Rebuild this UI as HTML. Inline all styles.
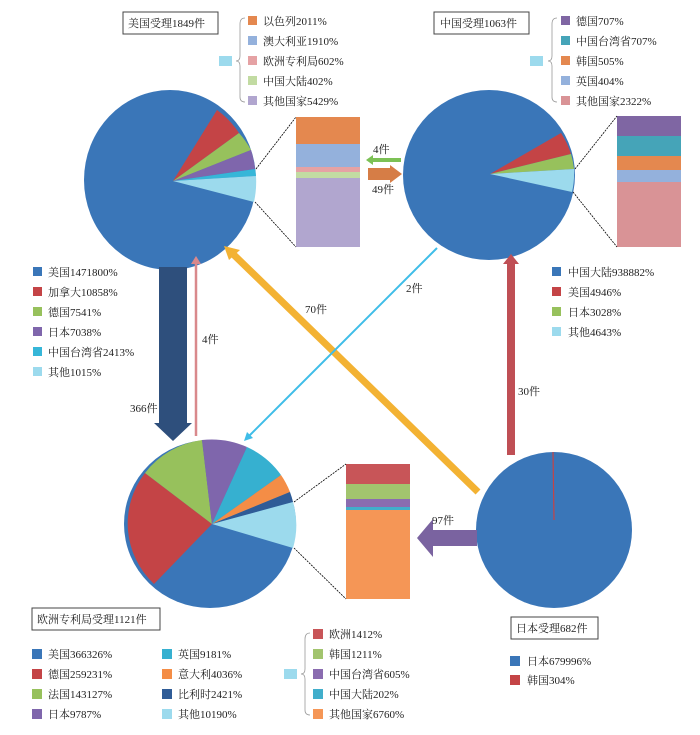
<!DOCTYPE html>
<html><head><meta charset="utf-8"><style>
body{margin:0;background:#fff}
svg text{font-family:"Liberation Serif","Noto Serif CJK SC","Noto Sans CJK SC",serif;font-size:11px;fill:#222}
</style></head><body>
<svg width="700" height="730" viewBox="0 0 700 730" xmlns="http://www.w3.org/2000/svg">
<!-- US pie -->
<ellipse cx="170" cy="180" rx="86" ry="90" fill="#3a76b8"/>
<path d="M173 181 L217 110 A86 90 0 0 1 239 133 Z" fill="#c44446"/>
<path d="M173 181 L239 133 A86 90 0 0 1 251 150 Z" fill="#97c15c"/>
<path d="M173 181 L251 150 A86 90 0 0 1 255 169 Z" fill="#7f66ac"/>
<path d="M173 181 L255 169 A86 90 0 0 1 256 176 Z" fill="#36b6d8"/>
<path d="M173 181 L256 176 A86 90 0 0 1 254 202 Z" fill="#9cdaed"/>
<rect x="296" y="117" width="64" height="27" fill="#e4884f"/>
<rect x="296" y="144" width="64" height="23" fill="#94b1dc"/>
<rect x="296" y="167" width="64" height="5" fill="#e5a2a4"/>
<rect x="296" y="172" width="64" height="6" fill="#c2dba2"/>
<rect x="296" y="178" width="64" height="69" fill="#b1a6cf"/>
<line x1="256" y1="169" x2="296" y2="117" stroke="#000" stroke-dasharray="2,1" stroke-width="0.8"/>
<line x1="255" y1="202" x2="296" y2="247" stroke="#000" stroke-dasharray="2,1" stroke-width="0.8"/>
<!-- China pie -->
<ellipse cx="489" cy="175" rx="86" ry="85" fill="#3a76b8"/>
<path d="M490 174 L561 133 A86 85 0 0 1 571 154 Z" fill="#c44446"/>
<path d="M490 174 L571 154 A86 85 0 0 1 574 169 Z" fill="#97c15c"/>
<path d="M490 174 L574 169 A86 85 0 0 1 572 192 Z" fill="#9cdaed"/>
<rect x="617" y="116" width="64" height="20" fill="#7f66a3"/>
<rect x="617" y="136" width="64" height="20" fill="#45a4b8"/>
<rect x="617" y="156" width="64" height="14" fill="#e4884f"/>
<rect x="617" y="170" width="64" height="12" fill="#94b1dc"/>
<rect x="617" y="182" width="64" height="65" fill="#d99396"/>
<line x1="575" y1="169" x2="617" y2="116" stroke="#000" stroke-dasharray="2,1" stroke-width="0.8"/>
<line x1="573" y1="192" x2="617" y2="247" stroke="#000" stroke-dasharray="2,1" stroke-width="0.8"/>
<!-- small arrows between -->
<path d="M401 158 L373 158 L373 155 L366 160 L373 165 L373 162 L401 162 Z" fill="#7cc155"/>
<path d="M368 168 L390 168 L390 165 L402 174 L390 183 L390 180 L368 180 Z" fill="#d67d46"/>
<text x="373" y="153">4件</text><text x="372" y="193">49件</text>
<!-- EPO pie -->
<ellipse cx="210" cy="524" rx="86" ry="84" fill="#3a76b8"/>
<path d="M212 524 L154 584 A86 84 0 0 1 145 473 Z" fill="#c44446"/>
<path d="M212 524 L145 473 A86 84 0 0 1 202 440 Z" fill="#97c15c"/>
<path d="M212 524 L202 440 A86 84 0 0 1 247 447 Z" fill="#7f66ac"/>
<path d="M212 524 L247 447 A86 84 0 0 1 281 475 Z" fill="#36b0d0"/>
<path d="M212 524 L281 475 A86 84 0 0 1 290 492 Z" fill="#f48d46"/>
<path d="M212 524 L290 492 A86 84 0 0 1 293 502 Z" fill="#2f5c97"/>
<path d="M212 524 L293 502 A86 84 0 0 1 293 548 Z" fill="#9cdaed"/>
<rect x="346" y="464" width="64" height="20" fill="#c85558"/>
<rect x="346" y="484" width="64" height="15" fill="#a2c46e"/>
<rect x="346" y="499" width="64" height="8" fill="#8a6cb0"/>
<rect x="346" y="507" width="64" height="3" fill="#41aecb"/>
<rect x="346" y="510" width="64" height="89" fill="#f59656"/>
<line x1="294" y1="502" x2="346" y2="464" stroke="#000" stroke-dasharray="2,1" stroke-width="0.8"/>
<line x1="294" y1="548" x2="346" y2="599" stroke="#000" stroke-dasharray="2,1" stroke-width="0.8"/>
<!-- Japan pie -->
<ellipse cx="554" cy="530" rx="78" ry="78" fill="#3a76b8"/>
<line x1="553" y1="452" x2="554" y2="520" stroke="#c44446" stroke-width="1.2"/>
<!-- purple arrow -->
<path d="M477 530 L433 530 L433 519 L417 538 L433 557 L433 546 L477 546 Z" fill="#7a63a0"/>
<text x="432" y="524">97件</text>
<!-- big arrows -->
<path d="M159 267 L187 267 L187 423 L192 423 L173 441 L154 423 L159 423 Z" fill="#2e4f7c"/>
<line x1="196" y1="262" x2="196" y2="436" stroke="#d9898c" stroke-width="2.5"/>
<path d="M191 264 L196 256 L201 264 Z" fill="#d9898c"/>
<text x="130" y="412">366件</text><text x="202" y="343">4件</text>
<line x1="478" y1="492" x2="234" y2="255" stroke="#f3b233" stroke-width="7"/>
<path d="M224 246 L240 250 L229 260 Z" fill="#f3b233"/>
<text x="305" y="313">70件</text>
<line x1="437" y1="248" x2="248" y2="437" stroke="#3fbde8" stroke-width="2"/>
<path d="M244 441 L247 432 L253 438 Z" fill="#3fbde8"/>
<text x="406" y="292">2件</text>
<rect x="507" y="263" width="8" height="192" fill="#bf4f55"/>
<path d="M503 264 L511 254 L519 264 Z" fill="#bf4f55"/>
<text x="518" y="395">30件</text>
<!-- boxes -->
<g fill="#fff" stroke="#444" stroke-width="1">
<rect x="123" y="12" width="95" height="22"/><rect x="434" y="12" width="95" height="22"/>
<rect x="32" y="608" width="128" height="22"/><rect x="511" y="617" width="87" height="22"/>
</g>
<text x="128" y="27">美国受理1849件</text><text x="440" y="27">中国受理1063件</text>
<text x="37" y="623">欧洲专利局受理1121件</text><text x="516" y="632">日本受理682件</text>
<!-- braces -->
<g fill="none" stroke="#999" stroke-width="0.8">
<path d="M245 18 Q240 18 240 24 L240 56 Q240 61 236 61 Q240 61 240 66 L240 97 Q240 102 245 102"/>
<path d="M557 18 Q552 18 552 24 L552 56 Q552 61 548 61 Q552 61 552 66 L552 97 Q552 102 557 102"/>
<path d="M310 633 Q305 633 305 639 L305 669 Q305 674 301 674 Q305 674 305 679 L305 710 Q305 715 310 715"/>
</g>
<rect x="219" y="56" width="13" height="10" fill="#9cdaed"/>
<rect x="530" y="56" width="13" height="10" fill="#9cdaed"/>
<rect x="284" y="669" width="13" height="10" fill="#9cdaed"/>
<!-- legends -->
<g>
<rect x="248" y="16" width="9" height="9" fill="#e4884f"/><text x="263" y="25">以色列2011%</text>
<rect x="248" y="36" width="9" height="9" fill="#94b1dc"/><text x="263" y="45">澳大利亚1910%</text>
<rect x="248" y="56" width="9" height="9" fill="#e5a2a4"/><text x="263" y="65">欧洲专利局602%</text>
<rect x="248" y="76" width="9" height="9" fill="#c2dba2"/><text x="263" y="85">中国大陆402%</text>
<rect x="248" y="96" width="9" height="9" fill="#b1a6cf"/><text x="263" y="105">其他国家5429%</text>

<rect x="561" y="16" width="9" height="9" fill="#7f66a3"/><text x="576" y="25">德国707%</text>
<rect x="561" y="36" width="9" height="9" fill="#45a4b8"/><text x="576" y="45">中国台湾省707%</text>
<rect x="561" y="56" width="9" height="9" fill="#e4884f"/><text x="576" y="65">韩国505%</text>
<rect x="561" y="76" width="9" height="9" fill="#94b1dc"/><text x="576" y="85">英国404%</text>
<rect x="561" y="96" width="9" height="9" fill="#d99396"/><text x="576" y="105">其他国家2322%</text>

<rect x="33" y="267" width="9" height="9" fill="#3a76b8"/><text x="48" y="276">美国1471800%</text>
<rect x="33" y="287" width="9" height="9" fill="#c44446"/><text x="48" y="296">加拿大10858%</text>
<rect x="33" y="307" width="9" height="9" fill="#97c15c"/><text x="48" y="316">德国7541%</text>
<rect x="33" y="327" width="9" height="9" fill="#7f66ac"/><text x="48" y="336">日本7038%</text>
<rect x="33" y="347" width="9" height="9" fill="#36b6d8"/><text x="48" y="356">中国台湾省2413%</text>
<rect x="33" y="367" width="9" height="9" fill="#9cdaed"/><text x="48" y="376">其他1015%</text>

<rect x="552" y="267" width="9" height="9" fill="#3a76b8"/><text x="568" y="276">中国大陆938882%</text>
<rect x="552" y="287" width="9" height="9" fill="#c44446"/><text x="568" y="296">美国4946%</text>
<rect x="552" y="307" width="9" height="9" fill="#97c15c"/><text x="568" y="316">日本3028%</text>
<rect x="552" y="327" width="9" height="9" fill="#9cdaed"/><text x="568" y="336">其他4643%</text>

<rect x="32" y="649" width="10" height="10" fill="#3a76b8"/><text x="48" y="658">美国366326%</text>
<rect x="32" y="669" width="10" height="10" fill="#c44446"/><text x="48" y="678">德国259231%</text>
<rect x="32" y="689" width="10" height="10" fill="#97c15c"/><text x="48" y="698">法国143127%</text>
<rect x="32" y="709" width="10" height="10" fill="#7f66ac"/><text x="48" y="718">日本9787%</text>
<rect x="162" y="649" width="10" height="10" fill="#36b0d0"/><text x="178" y="658">英国9181%</text>
<rect x="162" y="669" width="10" height="10" fill="#f48d46"/><text x="178" y="678">意大利4036%</text>
<rect x="162" y="689" width="10" height="10" fill="#2f5c97"/><text x="178" y="698">比利时2421%</text>
<rect x="162" y="709" width="10" height="10" fill="#9cdaed"/><text x="178" y="718">其他10190%</text>

<rect x="313" y="629" width="10" height="10" fill="#c85558"/><text x="329" y="638">欧洲1412%</text>
<rect x="313" y="649" width="10" height="10" fill="#a2c46e"/><text x="329" y="658">韩国1211%</text>
<rect x="313" y="669" width="10" height="10" fill="#8a6cb0"/><text x="329" y="678">中国台湾省605%</text>
<rect x="313" y="689" width="10" height="10" fill="#41aecb"/><text x="329" y="698">中国大陆202%</text>
<rect x="313" y="709" width="10" height="10" fill="#f59656"/><text x="329" y="718">其他国家6760%</text>

<rect x="510" y="656" width="10" height="10" fill="#3a76b8"/><text x="527" y="665">日本679996%</text>
<rect x="510" y="675" width="10" height="10" fill="#c44446"/><text x="527" y="684">韩国304%</text>
</g>
</svg>
</body></html>
